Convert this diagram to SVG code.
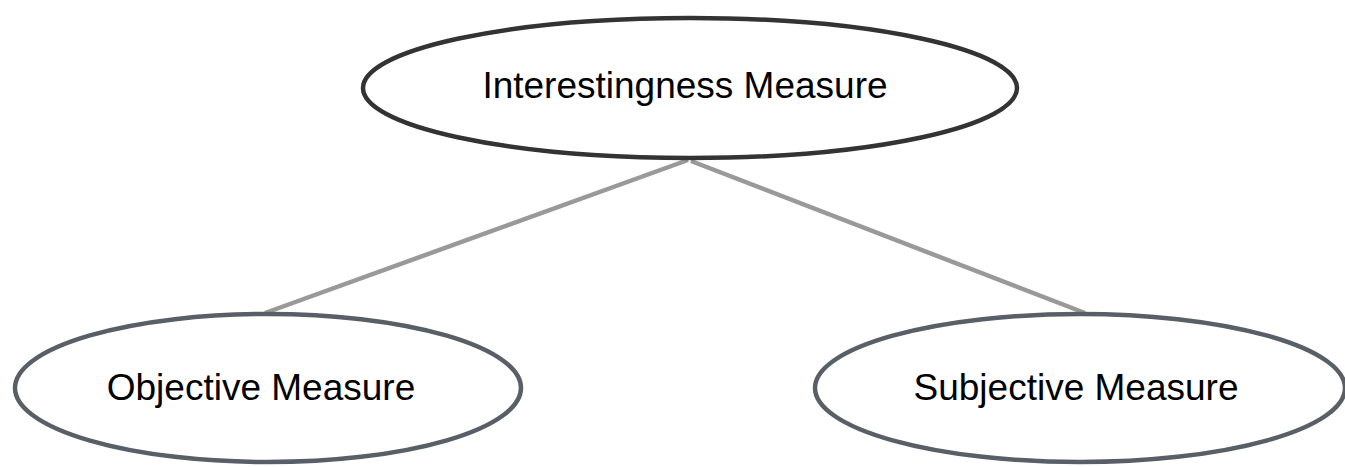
<svg xmlns="http://www.w3.org/2000/svg" width="1345" height="467" viewBox="0 0 1345 467">
  <style>
    .lbl { font-family: "Liberation Sans", Arial, sans-serif; font-size: 37px; fill: #000; text-anchor: middle; }
    .root { fill: #fff; stroke: #333333; stroke-width: 4.5; }
    .leaf { fill: #fff; stroke: #595f66; stroke-width: 4.5; }
    .edge { stroke: #999999; stroke-width: 4.5; fill: none; }
  </style>
  <rect width="1345" height="467" fill="#fff"/>
  <g id="connectors">
    <line class="edge" x1="688" y1="160" x2="265" y2="313"/>
    <line class="edge" x1="691" y1="161" x2="1085" y2="313"/>
  </g>
  <g id="node-interestingness">
    <ellipse class="root" cx="690" cy="88" rx="327" ry="70"/>
    <text class="lbl" x="685" y="98">Interestingness Measure</text>
  </g>
  <g id="node-objective">
    <ellipse class="leaf" cx="268" cy="388" rx="253" ry="74"/>
    <text class="lbl" x="261" y="400">Objective Measure</text>
  </g>
  <g id="node-subjective">
    <ellipse class="leaf" cx="1080" cy="388" rx="265" ry="74"/>
    <text class="lbl" x="1076" y="400">Subjective Measure</text>
  </g>
</svg>
